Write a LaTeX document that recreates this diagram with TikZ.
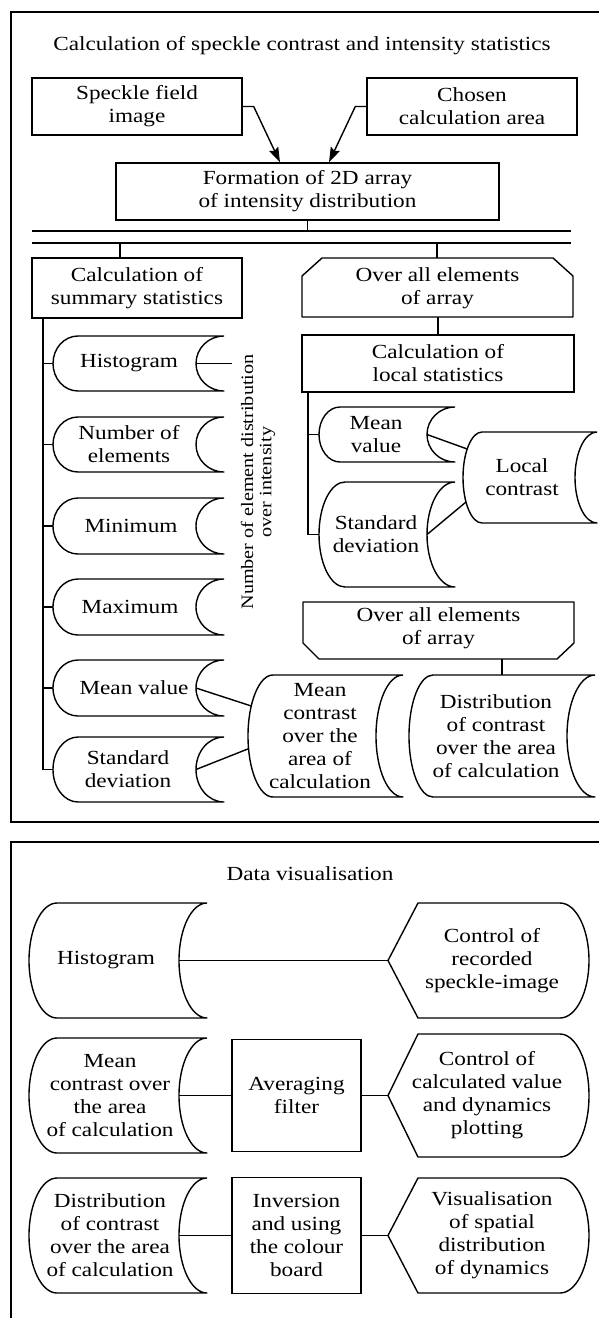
\documentclass[tikz,border=0pt]{standalone}
\usepackage{fontspec}
\setmainfont{Liberation Serif}[FakeStretch=1.16]
\usetikzlibrary{arrows.meta,calc}

\newcommand\SDshape[7]{%
  \pgfmathsetmacro\sdmid{(#6+#7)/2}%
  \pgfmathsetmacro\sdry{(#7-#6)/4}%
  \pgfmathsetmacro\sdrx{#3/2}%
  \pgfmathsetmacro\sdrd{#5/2}%
  \draw[shp] (#4,#6) -- ({#2+#3},#6) arc[start angle=90,end angle=270,x radius=\sdrx pt,y radius=\sdry pt] -- (#4,#7) arc[start angle=270,end angle=90,x radius=\sdrd pt,y radius=\sdry pt];
  \coordinate (#1-w) at (#2,\sdmid);
  \coordinate (#1-e) at ({#4-#5},\sdmid);
  \coordinate (#1-lc) at ({#2+#3},\sdmid);
}
\newcommand\DISPshape[7]{%
  \pgfmathsetmacro\dsmid{(#6+#7)/2}%
  \pgfmathsetmacro\dsry{(#7-#6)/4}%
  \pgfmathsetmacro\dsrx{#5/2}%
  \draw[shp] (#2,\dsmid) -- ({#2+#3},#6) -- (#4,#6) arc[start angle=90,end angle=-90,x radius=\dsrx pt,y radius=\dsry pt] -- ({#2+#3},#7) -- cycle;
  \coordinate (#1-w) at (#2,\dsmid);
}

\begin{document}
\begin{tikzpicture}[x=0.5pt,y=-0.5pt,
  shp/.style={line width=0.7pt, line join=round},
  frame/.style={line width=1.2pt},
  txt/.style={align=center, font=\fontsize{10}{11.5}\selectfont, inner sep=0pt},
  boxn/.style={txt, draw, line width=0.7pt},
  ln/.style={line width=0.7pt},
  arr/.style={ln, -{Stealth[length=7.5pt,width=5pt,inset=1.2pt]}}
]
\useasboundingbox (0,0) rectangle (599,1318);

% ---------- frames ----------
\draw[frame] (605,12) -- (11,12) -- (11,822) -- (605,822);
\draw[frame] (605,842) -- (11,842) -- (11,1325);

% ---------- top frame ----------
\node[txt, anchor=base] (title1) at (302,50) {Calculation of speckle contrast and intensity statistics};

\node[boxn, minimum width=105pt, minimum height=28.5pt] (speckle) at (137,106.5) {Speckle field\\image};
\node[boxn, minimum width=105pt, minimum height=28.5pt] (chosen) at (472,106.5) {Chosen\\calculation area};
\node[boxn, minimum width=191.5pt, minimum height=28.5pt] (formation) at (307.5,191.5) {Formation of 2D array\\of intensity distribution};

\coordinate (fa1) at (280,0);
\coordinate (fa2) at (329,0);
\draw[arr] (speckle.east) -- ++(11,0) -- (formation.north -| fa1);
\draw[arr] (chosen.west) -- ++(-11,0) -- (formation.north -| fa2);

% bus
\coordinate (bus1w) at (32,231); \coordinate (bus1e) at (571,231);
\coordinate (bus2w) at (32,243); \coordinate (bus2e) at (571,243);
\draw[ln] (bus1w) -- (bus1e);
\draw[ln] (bus2w) -- (bus2e);
\draw[ln] (formation.south) -- (formation.south |- bus1w);

\node[boxn, minimum width=105pt, minimum height=30pt] (summary) at (137,288) {Calculation of\\summary statistics};
\coordinate (sumtop) at (120,258);
\draw[ln] (sumtop |- bus2w) -- (sumtop);

% octagon 1
\draw[shp] (322,258) -- (553,258) -- (573,276) -- (573,317) -- (302,317) -- (302,276) -- cycle;
\node[txt] (oct1) at (437.5,288) {Over all elements\\of array};
\coordinate (oct1n) at (437,258);
\coordinate (oct1s) at (438,317);
\draw[ln] (oct1n |- bus2w) -- (oct1n);

\node[boxn, minimum width=136pt, minimum height=28.5pt] (localstats) at (438,363.5) {Calculation of\\local statistics};
\draw[ln] (oct1s) -- (localstats.north);

% left column
\SDshape{hist}{53}{25}{224}{28}{336}{391}
\SDshape{num}{53}{25}{224}{28}{417}{472}
\SDshape{min}{53}{25}{224}{28}{498}{554}
\SDshape{max}{53}{25}{224}{28}{579}{635}
\SDshape{mv}{53}{25}{224}{28}{660}{716}
\SDshape{sd}{53}{25}{224}{28}{737}{802}
\node[txt] (histT) at (129,363.5) {Histogram};
\node[txt] (numT) at (129,444.5) {Number of\\elements};
\node[txt] (minT) at (131,526) {Minimum};
\node[txt] (maxT) at (130,607) {Maximum};
\node[txt] (mvT) at (134,688) {Mean value};
\node[txt] (sdT) at (128,769.5) {Standard\\deviation};

\coordinate (sumv) at (43,0);
\draw[ln] (summary.south -| sumv) -- (sumv |- sd-w) -- (sd-w);
\foreach \n in {hist,num,min,max,mv} \draw[ln] (sumv |- \n-w) -- (\n-w);

\coordinate (histout) at (232,363.5);
\draw[ln] (hist-e) -- (histout);
\node[txt, rotate=90, font=\fontsize{8.7}{9.2}\selectfont] (numdist) at (258,482) {Number of element distribution\\over intensity};

% local column
\SDshape{lmv}{319}{21}{455}{28}{407}{462}
\SDshape{lsd}{319}{26}{455}{28}{482}{587}
\node[txt] (lmvT) at (376,434.5) {Mean\\value};
\node[txt] (lsdT) at (376,534.5) {Standard\\deviation};
\coordinate (lsv) at (308,0);
\draw[ln] (localstats.south -| lsv) -- (lsv |- lsd-w) -- (lsd-w);
\draw[ln] (lsv |- lmv-w) -- (lmv-w);

\SDshape{lc}{463}{19}{597}{22}{432}{523}
\node[txt] (lcT) at (522,477.5) {Local\\contrast};
\draw[ln] (lmv-e) -- ($(lc-lc)+(141.2:9.5pt and 22.75pt)$);
\draw[ln] (lsd-e) -- ($(lc-lc)+(212.6:9.5pt and 22.75pt)$);

% octagon 2
\draw[shp] (303,602) -- (574,602) -- (574,643) -- (557,659) -- (319,659) -- (303,643) -- cycle;
\node[txt] (oct2) at (438.5,628) {Over all elements\\of array};
\coordinate (oct2s) at (502,659);
\coordinate (distn) at (502,675);
\draw[ln] (oct2s) -- (distn);

\SDshape{mc}{248}{25}{403}{27}{675}{797}
\node[txt] (mcT) at (320,736) {Mean\\contrast\\over the\\area of\\calculation};
\SDshape{dist}{409}{24}{595}{28}{675}{797}
\node[txt] (distT) at (496,736) {Distribution\\of contrast\\over the area\\of calculation};

\draw[ln] (mv-e) -- ($(mc-lc)+(150.5:12.5pt and 30.5pt)$);
\draw[ln] (sd-e) -- ($(mc-lc)+(192:12.5pt and 30.5pt)$);

% ---------- bottom frame ----------
\node[txt, anchor=base] (title2) at (310,880) {Data visualisation};

\SDshape{bhist}{29}{28}{207}{28}{903}{1018}
\SDshape{bmc}{29}{28}{207}{28}{1038}{1153}
\SDshape{bdist}{29}{28}{207}{28}{1178}{1293}
\node[txt] (bhistT) at (106,960.5) {Histogram};
\node[txt] (bmcT) at (110,1095.5) {Mean\\contrast over\\the area\\of calculation};
\node[txt] (bdistT) at (110,1235.5) {Distribution\\of contrast\\over the area\\of calculation};

\node[boxn, minimum width=64.5pt, minimum height=56pt] (avg) at (296.5,1095.5) {Averaging\\filter};
\node[boxn, minimum width=64.5pt, minimum height=58pt] (inv) at (296.5,1235.5) {Inversion\\and using\\the colour\\board};

\DISPshape{rec}{388}{30}{560}{29}{903}{1018}
\DISPshape{calc}{388}{30}{560}{29}{1034}{1157}
\DISPshape{vis}{388}{30}{560}{29}{1178}{1293}
\node[txt] (recT) at (492,960.5) {Control of\\recorded\\speckle-image};
\node[txt] (calcT) at (487,1095.5) {Control of\\calculated value\\and dynamics\\plotting};
\node[txt] (visT) at (492,1235.5) {Visualisation\\of spatial\\distribution\\of dynamics};

\draw[ln] (bhist-e) -- (rec-w);
\draw[ln] (bmc-e) -- (avg.west);
\draw[ln] (avg.east) -- (calc-w);
\draw[ln] (bdist-e) -- (inv.west);
\draw[ln] (inv.east) -- (vis-w);
\end{tikzpicture}
\end{document}
